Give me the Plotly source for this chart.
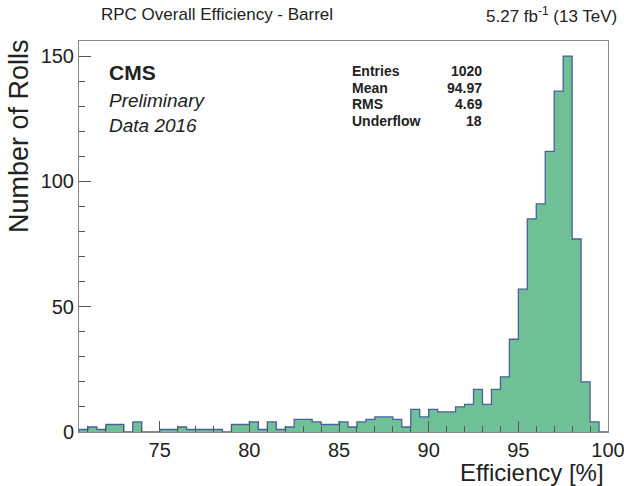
import numpy as np
import plotly.graph_objects as go

# ---- data ----
bin_low = 70.5
bin_width = 0.5
counts = [1, 2, 1, 3, 3, 0, 4, 0, 0, 1,      # 70.5 .. 75.0
          1, 2, 1, 1, 1, 1, 0, 3, 3, 4,      # 75.5 .. 80.0
          1, 4, 1, 2, 5, 5, 4, 3, 3, 4,      # 80.5 .. 85.0
          2, 4, 5, 6, 6, 5, 2, 9, 6, 9,      # 85.5 .. 90.0
          8, 8, 10, 11, 17, 11, 17, 22, 37, 57,  # 90.5 .. 95.0
          85, 91, 112, 136, 150, 77, 20, 4, 0]   # 95.5 .. 99.5
stats_labels = ["Entries", "Mean", "RMS", "Underflow"]
stats_values = ["1020", "94.97", "4.69", "18"]
x_tick_vals = [75, 80, 85, 90, 95, 100]
y_tick_vals = [0, 50, 100, 150]

# ---- geometry helpers (pixel -> paper) ----
W, H = 624, 486
L, R, T, B = 79, 608, 41, 432
def px(x):
    return (x - L) / (R - L)
def py(y):
    return (B - y) / (B - T)

edges = bin_low + bin_width * np.arange(len(counts) + 1)
xs = [edges[0]] + list(edges[:-1]) + [edges[-1], edges[-1]]
ys = [0] + list(counts) + [counts[-1], 0]

FONT = "Liberation Sans, Arial, sans-serif"
TXT = "#222222"

fig = go.Figure()
fig.add_trace(go.Scatter(
    x=xs, y=ys, mode="lines", line_shape="hv",
    line=dict(color="#4a5f9c", width=1.3),
    fill="tozeroy", fillcolor="#6fbf97",
    hoverinfo="skip", showlegend=False))

fig.update_layout(
    width=W, height=H, autosize=False,
    margin=dict(l=L, r=W - R, t=T, b=H - B, pad=0, autoexpand=False),
    paper_bgcolor="white", plot_bgcolor="white",
    font=dict(family=FONT, color=TXT),
    xaxis=dict(range=[70.5, 100], tickvals=x_tick_vals, automargin=False,
               ticklabeloverflow="allow",
               ticks="inside", ticklen=11, tickwidth=1, tickcolor="#555",
               minor=dict(ticks="inside", ticklen=6, dtick=1, tick0=70,
                          tickcolor="#555"),
               showgrid=False, zeroline=False,
               showline=True, linecolor="#888", linewidth=1, mirror=True,
               tickfont=dict(size=20, color=TXT)),
    yaxis=dict(range=[0, 156], tickvals=y_tick_vals, automargin=False,
               ticklabeloverflow="allow",
               ticks="inside", ticklen=12, tickwidth=1, tickcolor="#555",
               minor=dict(ticks="inside", ticklen=6, dtick=10, tick0=0,
                          tickcolor="#555"),
               showgrid=False, zeroline=False,
               showline=True, linecolor="#888", linewidth=1, mirror=True,
               tickfont=dict(size=20, color=TXT)),
)

ann = []
def add(text, x, y, size, xanchor="left", yanchor="middle", **kw):
    ann.append(dict(text=text, x=px(x), y=py(y), xref="paper", yref="paper",
                    showarrow=False, xanchor=xanchor, yanchor=yanchor,
                    font=dict(size=size, color=TXT, family=FONT), **kw))

add("RPC Overall Efficiency - Barrel", 99, 15, 17)
add("5.27 fb<sup>-1</sup> (13 TeV)", 619, 15, 17, xanchor="right")
add("<b>CMS</b>", 107, 73, 21)
add("<i>Preliminary</i>", 107, 100, 19)
add("<i>Data 2016</i>", 107, 125, 19)
for i, (lab, val) in enumerate(zip(stats_labels, stats_values)):
    yy = 71 + i * 16.7
    add("<b>%s</b>" % lab, 350, yy, 14)
    add("<b>%s</b>" % val, 484, yy, 14, xanchor="right")
add("Number of Rolls", 19, 37, 27, xanchor="center", yanchor="top", textangle=-90)
add("Efficiency [%]", 606, 472, 24, xanchor="right")
fig.update_layout(annotations=ann)

fig.write_html("out.html")
